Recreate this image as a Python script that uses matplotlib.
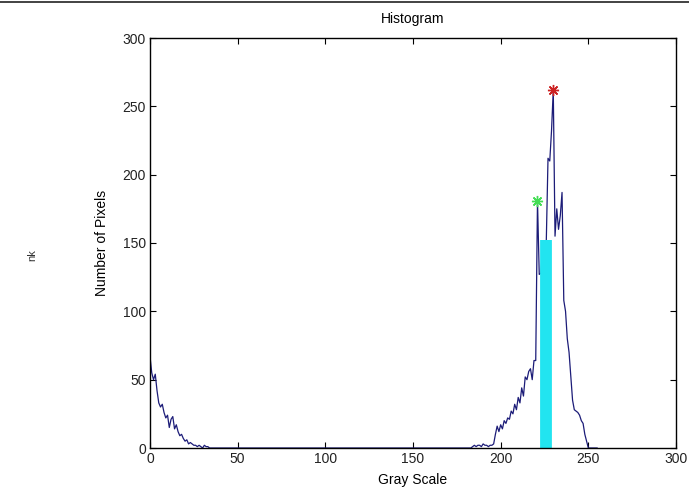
import matplotlib
matplotlib.use('Agg')
import matplotlib.pyplot as plt
from matplotlib.lines import Line2D
import numpy as np

plt.rcParams.update({
    'font.family': 'Liberation Sans', 'font.size': 10,
    'xtick.direction': 'in', 'ytick.direction': 'in',
    'xtick.top': True, 'ytick.right': True,
})

# pixel counts per gray level (dark tail starting at 0, bright cluster starting at 184)
dark_start = 0
dark_counts = [67, 55, 50, 54, 42, 33, 30, 32, 26, 22, 24, 15, 21, 23, 14, 17,
               12, 9, 10, 7, 5, 6, 3, 4, 3, 2, 2, 1, 2, 1, 0, 2, 1, 1]
bright_start = 184
bright_counts = [1, 2, 1, 2, 2, 1, 3, 2, 2, 1, 2, 2, 3, 10, 16, 12,
                 17, 14, 20, 18, 22, 21, 27, 25, 32, 28, 37, 33, 44, 38, 52, 50,
                 56, 58, 50, 64, 64, 181, 127, 128, 148, 150, 150, 212, 210, 232,
                 262, 155, 175, 160, 170, 187, 108, 100, 80, 70, 52, 35, 28, 27,
                 26, 24, 20, 18, 10, 5, 0]

# marked levels
second_peak = (221, 181)
main_peak = (230, 262)
threshold_level = 226
threshold_height = 152

levels = np.arange(256)
nk = np.zeros(256)
nk[dark_start:dark_start + len(dark_counts)] = dark_counts
nk[bright_start:bright_start + len(bright_counts)] = bright_counts

fig = plt.figure(figsize=(6.89, 4.88), dpi=100)
ax = fig.add_axes([150 / 689, 40 / 488, 526 / 689, 410 / 488])

ax.plot(levels, nk, color='#1c1c78', lw=0.9)
ax.plot([threshold_level, threshold_level], [0, threshold_height],
        color='#22e4f0', lw=8.5, solid_capstyle='butt')
# asterisk markers (8 arms)
ax.plot(*second_peak, marker=(8, 2, 0), color='#44dd55', ms=8, mew=1.0)
ax.plot(*main_peak, marker=(8, 2, 0), color='#cc2222', ms=8, mew=1.0)

ax.set_xlim(0, 300)
ax.set_ylim(0, 300)
ax.set_xticks(np.arange(0, 301, 50))
ax.set_yticks(np.arange(0, 301, 50))
ax.tick_params(length=4, width=0.8, pad=3, labelcolor='#222222')
for s in ax.spines.values():
    s.set_linewidth(1.0)

ax.set_title('Histogram', fontsize=10, pad=11)
ax.set_xlabel('Gray Scale', labelpad=5)
ax.set_ylabel('Number of Pixels', labelpad=10)

fig.text(32 / 689, 1 - 255 / 488, 'nk', rotation=90, fontsize=8,
         ha='center', va='center', color='#333333')
fig.add_artist(Line2D([0, 1], [1 - 2 / 488, 1 - 2 / 488], color='#222222', lw=1.2))

fig.savefig('out.png', dpi=100)
